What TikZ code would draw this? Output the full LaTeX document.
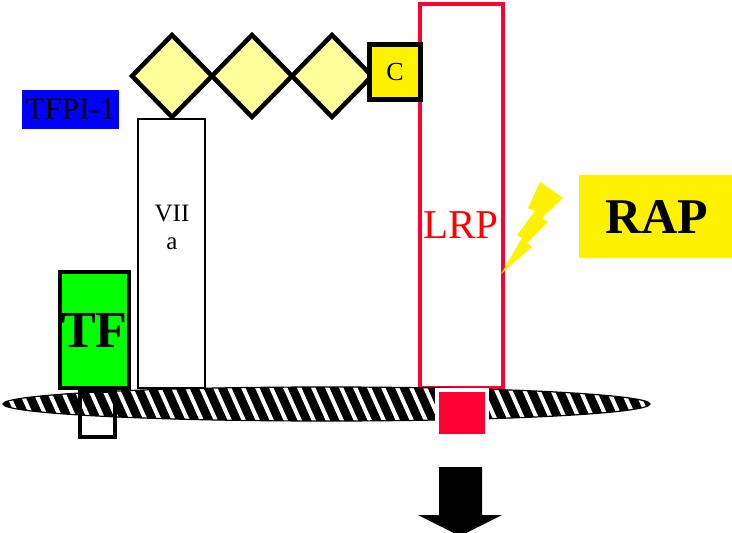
\documentclass[tikz,border=0pt]{standalone}
\usepackage{fontspec}
\setmainfont{Liberation Serif}
\usetikzlibrary{shapes.geometric,positioning}
\definecolor{lrpRed}{RGB}{255,0,51}
\definecolor{sugarYellow}{RGB}{255,255,153}
\definecolor{tfGreen}{RGB}{0,255,0}
\definecolor{tfpiBlue}{RGB}{0,0,255}

\begin{document}
\begin{tikzpicture}[x=1pt,y=-1pt,
  box/.style={draw,inner sep=0pt,outer sep=0pt},
  tfbox/.style={box,fill=tfGreen,line width=4pt,minimum width=69pt,minimum height=116pt,font=\fontsize{52}{52}\selectfont\bfseries},
  viibox/.style={box,fill=white,line width=1.2pt,minimum width=67pt,minimum height=269pt},
  tfpibox/.style={inner sep=0pt,fill=tfpiBlue,minimum width=97pt,minimum height=39pt,font=\fontsize{31}{31}\selectfont},
  sugar/.style={diamond,box,fill=sugarYellow,line width=4.5pt,minimum width=80pt,minimum height=82pt},
  cbox/.style={box,fill=yellow,line width=5pt,minimum width=51pt,minimum height=55pt,font=\fontsize{26}{26}\selectfont},
  lrpbox/.style={box,draw=lrpRed,line width=4pt,fill=white,minimum width=83pt,minimum height=384pt},
  rapbox/.style={inner sep=0pt,fill=yellow,minimum width=156pt,minimum height=83pt,font=\fontsize{50}{50}\selectfont\bfseries},
  anchorbox/.style={box,line width=4pt,minimum width=35pt,minimum height=46pt},
  pit/.style={box,fill=lrpRed,draw=white,line width=4pt,minimum width=50pt,minimum height=46pt},
  stripe/.style={white,line width=4pt}
]
  \path[use as bounding box,fill=white] (0,0) rectangle (732,533);

  % receptor
  \node[lrpbox] (lrp) at (461,196) {};
  \node[text=red,font=\fontsize{41}{41}\selectfont] (lrplabel) at (461,225) {LRP};

  % membrane
  \begin{scope}
    \clip (326.5,404) ellipse [x radius=323.5, y radius=17];
    \fill (0,380) rectangle (660,430);
    \foreach \s in {-24,-10,...,660}
      \draw[stripe] (\s,385) -- ++(17,38);
  \end{scope}
  \draw[line width=1.2pt] (326.5,404) ellipse [x radius=323.5, y radius=17];

  \node[tfbox] (tf) at (94.5,330) {\raisebox{-7pt}{TF}};
  \node[anchorbox] (tfanchor) at (97.5,414) {};
  \node[viibox] (viia) at (171.5,253.5) {};
  \node[align=center,font=\fontsize{25}{28}\selectfont] (viialabel) at (172,227) {VII\\a};
  \node[tfpibox] (tfpi) at (70.5,109.5) {TFPI-1};

  % sugar chain
  \foreach \i/\x in {1/172,2/252,3/332}
    \node[sugar] (d\i) at (\x,76) {};
  \node[cbox] (c) at (395,72) {C};

  \node[pit] (pit) at (461.5,412.5) {};
  \node[rapbox] (rap) at (657,216.5) {RAP};

  % bolt
  \fill[yellow] (540,182) -- (563,198) -- (542,218) -- (548,222) -- (527,243) -- (532,247)
    -- (501,274) -- (522,238) -- (517,235) -- (535,211) -- (528,208) -- cycle;

  % endocytosis
  \fill (439,467) -- (482,467) -- (482,515) -- (502,515) -- (460,536) -- (418,515) -- (439,515) -- cycle;
\end{tikzpicture}
\end{document}
